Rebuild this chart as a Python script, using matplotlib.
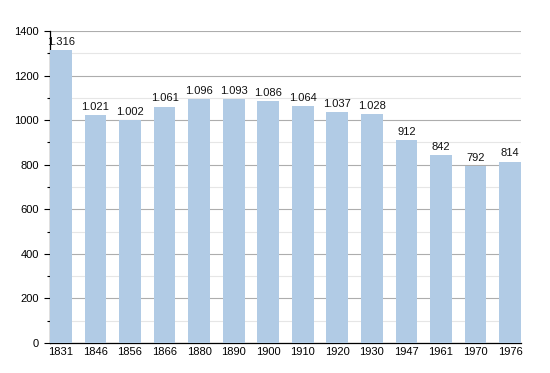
import matplotlib
matplotlib.use("Agg")
import matplotlib.pyplot as plt
from matplotlib.ticker import MultipleLocator

years = ["1831", "1846", "1856", "1866", "1880", "1890", "1900", "1910", "1920", "1930", "1947", "1961", "1970", "1976"]
population = [1316, 1021, 1002, 1061, 1096, 1093, 1086, 1064, 1037, 1028, 912, 842, 792, 814]

plt.rcParams['font.family'] = ['Liberation Sans', 'DejaVu Sans']

fig = plt.figure(figsize=(5.5, 3.73), dpi=100)
ax = fig.add_axes([50/550, 30/373, 471/550, 312/373])

w = 0.63
x = list(range(len(years)))
ax.bar(x, population, width=w, color="#b1cbe5", zorder=3)
for xi, v in zip(x, population):
    lab = f"{v:,}".replace(",", ".")
    ax.text(xi, v + 14, lab, ha="center", va="bottom", fontsize=8, color="#111111", zorder=4)

ax.set_xlim(-w/2, len(years) - 1 + w/2)
ax.set_ylim(0, 1400)
ax.set_xticks(x)
ax.set_xticklabels(years, fontsize=8)
ax.yaxis.set_major_locator(MultipleLocator(200))
ax.yaxis.set_minor_locator(MultipleLocator(100))
ax.tick_params(axis="y", which="major", labelsize=8, length=4, width=0.8, color="#000000", pad=4)
ax.tick_params(axis="y", which="minor", length=2, width=0.8, color="#000000")
ax.tick_params(axis="x", length=0, pad=3)
ax.grid(axis="y", which="major", color="#adadad", linewidth=0.8, zorder=1)
ax.grid(axis="y", which="minor", color="#e6e6e6", linewidth=0.8, zorder=1)
for s in ["top", "right"]:
    ax.spines[s].set_visible(False)
ax.spines["left"].set_linewidth(0.9)
ax.spines["bottom"].set_linewidth(0.9)
ax.set_axisbelow(True)

fig.savefig("out.png", dpi=100)
